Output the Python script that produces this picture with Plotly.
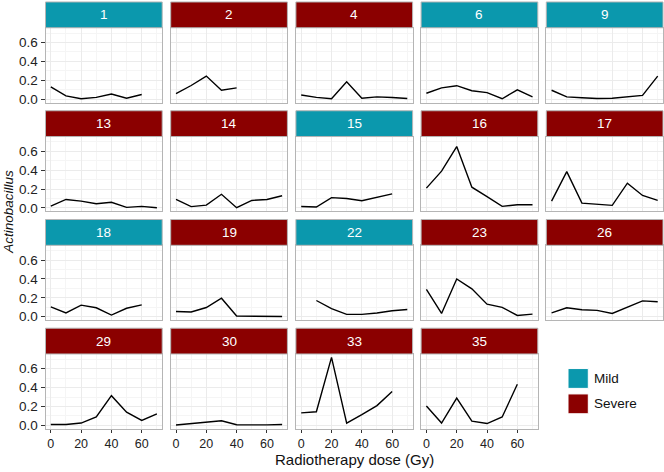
import plotly.graph_objects as go

subjects = ["1", "2", "4", "6", "9", "13", "14", "15", "16", "17",
            "18", "19", "22", "23", "26", "29", "30", "33", "35"]
severity = ["Mild", "Severe", "Severe", "Mild", "Mild", "Severe", "Severe", "Mild", "Severe", "Severe",
            "Mild", "Severe", "Mild", "Severe", "Severe", "Severe", "Severe", "Severe", "Severe"]
doses = [
    [0, 10, 20, 30, 40, 50, 60],            # 1
    [0, 10, 20, 30, 40],                    # 2
    [0, 10, 20, 30, 40, 50, 60, 70],        # 4
    [0, 10, 20, 30, 40, 50, 60, 70],        # 6
    [0, 10, 20, 30, 40, 50, 60, 70],        # 9
    [0, 10, 20, 30, 40, 50, 60, 70],        # 13
    [0, 10, 20, 30, 40, 50, 60, 70],        # 14
    [0, 10, 20, 30, 40, 50, 60],            # 15
    [0, 10, 20, 30, 40, 50, 60, 70],        # 16
    [0, 10, 20, 30, 40, 50, 60, 70],        # 17
    [0, 10, 20, 30, 40, 50, 60],            # 18
    [0, 10, 20, 30, 40, 50, 60, 70],        # 19
    [10, 20, 30, 40, 50, 60, 70],           # 22
    [0, 10, 20, 30, 40, 50, 60, 70],        # 23
    [0, 10, 20, 30, 40, 50, 60, 70],        # 26
    [0, 10, 20, 30, 40, 50, 60, 70],        # 29
    [0, 10, 20, 30, 40, 50, 60, 70],        # 30
    [0, 10, 20, 30, 40, 50, 60],            # 33
    [0, 10, 20, 30, 40, 50, 60],            # 35
]
abundance = [
    [0.13, 0.035, 0.005, 0.02, 0.055, 0.01, 0.05],
    [0.06, 0.145, 0.245, 0.095, 0.12],
    [0.045, 0.02, 0.005, 0.185, 0.01, 0.025, 0.018, 0.007],
    [0.063, 0.12, 0.143, 0.09, 0.07, 0.005, 0.1, 0.025],
    [0.095, 0.025, 0.015, 0.008, 0.01, 0.028, 0.04, 0.245],
    [0.02, 0.09, 0.073, 0.045, 0.06, 0.007, 0.017, 0.003],
    [0.09, 0.015, 0.03, 0.145, 0.003, 0.08, 0.09, 0.13],
    [0.015, 0.01, 0.11, 0.1, 0.077, 0.115, 0.15],
    [0.21, 0.39, 0.65, 0.22, 0.12, 0.017, 0.035, 0.035],
    [0.073, 0.385, 0.052, 0.04, 0.028, 0.262, 0.133, 0.08],
    [0.105, 0.04, 0.123, 0.095, 0.018, 0.09, 0.126],
    [0.056, 0.05, 0.098, 0.196, 0.008, 0.006, 0.005, 0.003],
    [0.172, 0.085, 0.025, 0.025, 0.04, 0.063, 0.077],
    [0.29, 0.035, 0.4, 0.295, 0.133, 0.1, 0.014, 0.028],
    [0.042, 0.095, 0.074, 0.067, 0.035, 0.1, 0.168, 0.158],
    [0.01, 0.01, 0.025, 0.09, 0.315, 0.14, 0.053, 0.123],
    [0.004, 0.02, 0.035, 0.05, 0.007, 0.004, 0.006, 0.01],
    [0.133, 0.145, 0.72, 0.025, 0.115, 0.21, 0.36],
    [0.205, 0.025, 0.29, 0.045, 0.02, 0.09, 0.435],
]
x_ticks = [0, 20, 40, 60]
y_ticks = [0.0, 0.2, 0.4, 0.6]
y_tick_labels = ["0.0", "0.2", "0.4", "0.6"]
groups = ["Mild", "Severe"]
group_colors = {"Mild": "#0B98AD", "Severe": "#8B0000"}

W, H = 664, 472
FONT = "Arial, Liberation Sans, Helvetica, sans-serif"
col_left = [45.5, 170.7, 295.9, 421.1, 546.3]
panel_w = 116.7
row_top = [2.0, 111.7, 221.4, 331.0]
strip_h = 26.0
panel_h = 75.5
ncol = 5
nrow = 4
border = "#B5B5B5"

fig = go.Figure()
layout = {}
shapes = []
annotations = []

n = len(subjects)
for i in range(n):
    r, c = divmod(i, ncol)
    k = i + 1
    xa = "xaxis" if k == 1 else f"xaxis{k}"
    ya = "yaxis" if k == 1 else f"yaxis{k}"
    xref = "x" if k == 1 else f"x{k}"
    yref = "y" if k == 1 else f"y{k}"
    x0 = col_left[c] / W
    x1 = (col_left[c] + panel_w) / W
    top = row_top[r] + strip_h
    bot = top + panel_h
    y0 = 1 - bot / H
    y1 = 1 - top / H
    below = i + ncol < n
    show_x = not below and r == nrow - 1
    show_y = c == 0
    layout[xa] = dict(
        domain=[x0, x1], anchor=yref, range=[-3.5, 73.5],
        tickvals=x_ticks, showticklabels=show_x,
        ticks="outside" if show_x else "", ticklen=3, tickcolor="#333333",
        tickfont=dict(size=12.5, color="#222222", family=FONT),
        showgrid=True, gridcolor="#EBEBEB", gridwidth=1,
        minor=dict(tickvals=[10, 30, 50, 70], showgrid=True, gridcolor="#F5F5F5", gridwidth=1),
        showline=True, linecolor=border, linewidth=1, mirror=True,
        zeroline=False, fixedrange=True,
    )
    layout[ya] = dict(
        domain=[y0, y1], anchor=xref, range=[-0.036, 0.756],
        tickvals=y_ticks, ticktext=y_tick_labels, showticklabels=show_y,
        ticks="outside" if show_y else "", ticklen=4, tickcolor="#333333",
        tickfont=dict(size=13.5, color="#222222", family=FONT),
        showgrid=True, gridcolor="#EBEBEB", gridwidth=1,
        minor=dict(tickvals=[0.1, 0.3, 0.5, 0.7], showgrid=True, gridcolor="#F5F5F5", gridwidth=1),
        showline=True, linecolor=border, linewidth=1, mirror=True,
        zeroline=False, fixedrange=True,
    )
    fig.add_trace(go.Scatter(
        x=doses[i], y=abundance[i], mode="lines",
        line=dict(color="black", width=1.4),
        xaxis=xref, yaxis=yref, showlegend=False, hoverinfo="x+y",
    ))
    st0 = 1 - (row_top[r] + strip_h) / H
    st1 = 1 - row_top[r] / H
    shapes.append(dict(type="rect", xref="paper", yref="paper",
                       x0=x0, x1=x1, y0=st0, y1=st1,
                       fillcolor=group_colors[severity[i]],
                       line=dict(color=border, width=1), layer="above"))
    annotations.append(dict(xref="paper", yref="paper", x=(x0 + x1) / 2, y=(st0 + st1) / 2,
                            text=subjects[i], showarrow=False,
                            font=dict(size=13.5, color="white", family=FONT),
                            xanchor="center", yanchor="middle"))

# legend
leg_keys = [(371.7, 391.7), (397.3, 417.3)]
for g, (t, b) in zip(groups, leg_keys):
    shapes.append(dict(type="rect", xref="paper", yref="paper",
                       x0=568 / W, x1=588.3 / W, y0=1 - b / H, y1=1 - t / H,
                       fillcolor=group_colors[g], line=dict(color="white", width=1)))
    annotations.append(dict(xref="paper", yref="paper", x=591.5 / W, y=1 - (t + b) / 2 / H,
                            text=g, showarrow=False, xanchor="left", yanchor="middle",
                            font=dict(size=13.5, color="#111111", family=FONT)))

annotations.append(dict(xref="paper", yref="paper", x=354 / W, y=0,
                        text="Radiotherapy dose (Gy)", showarrow=False, borderpad=0,
                        xanchor="center", yanchor="bottom", yshift=-1,
                        font=dict(size=15, color="#111111", family=FONT)))
annotations.append(dict(xref="paper", yref="paper", x=8.5 / W, y=1 - 214 / H,
                        text="<i>Actinobacillus</i>", showarrow=False, textangle=-90,
                        xanchor="center", yanchor="middle",
                        font=dict(size=13.5, color="#111111", family=FONT)))

fig.update_layout(
    width=W, height=H,
    margin=dict(l=0, r=0, t=0, b=0),
    paper_bgcolor="white", plot_bgcolor="white",
    shapes=shapes, annotations=annotations,
    showlegend=False,
    font=dict(family=FONT),
    **layout,
)

fig.write_html(
    "out.html",
    config={"displayModeBar": False},
    post_script="document.body.style.margin='0';document.body.style.padding='0';document.body.style.overflow='hidden';",
)
